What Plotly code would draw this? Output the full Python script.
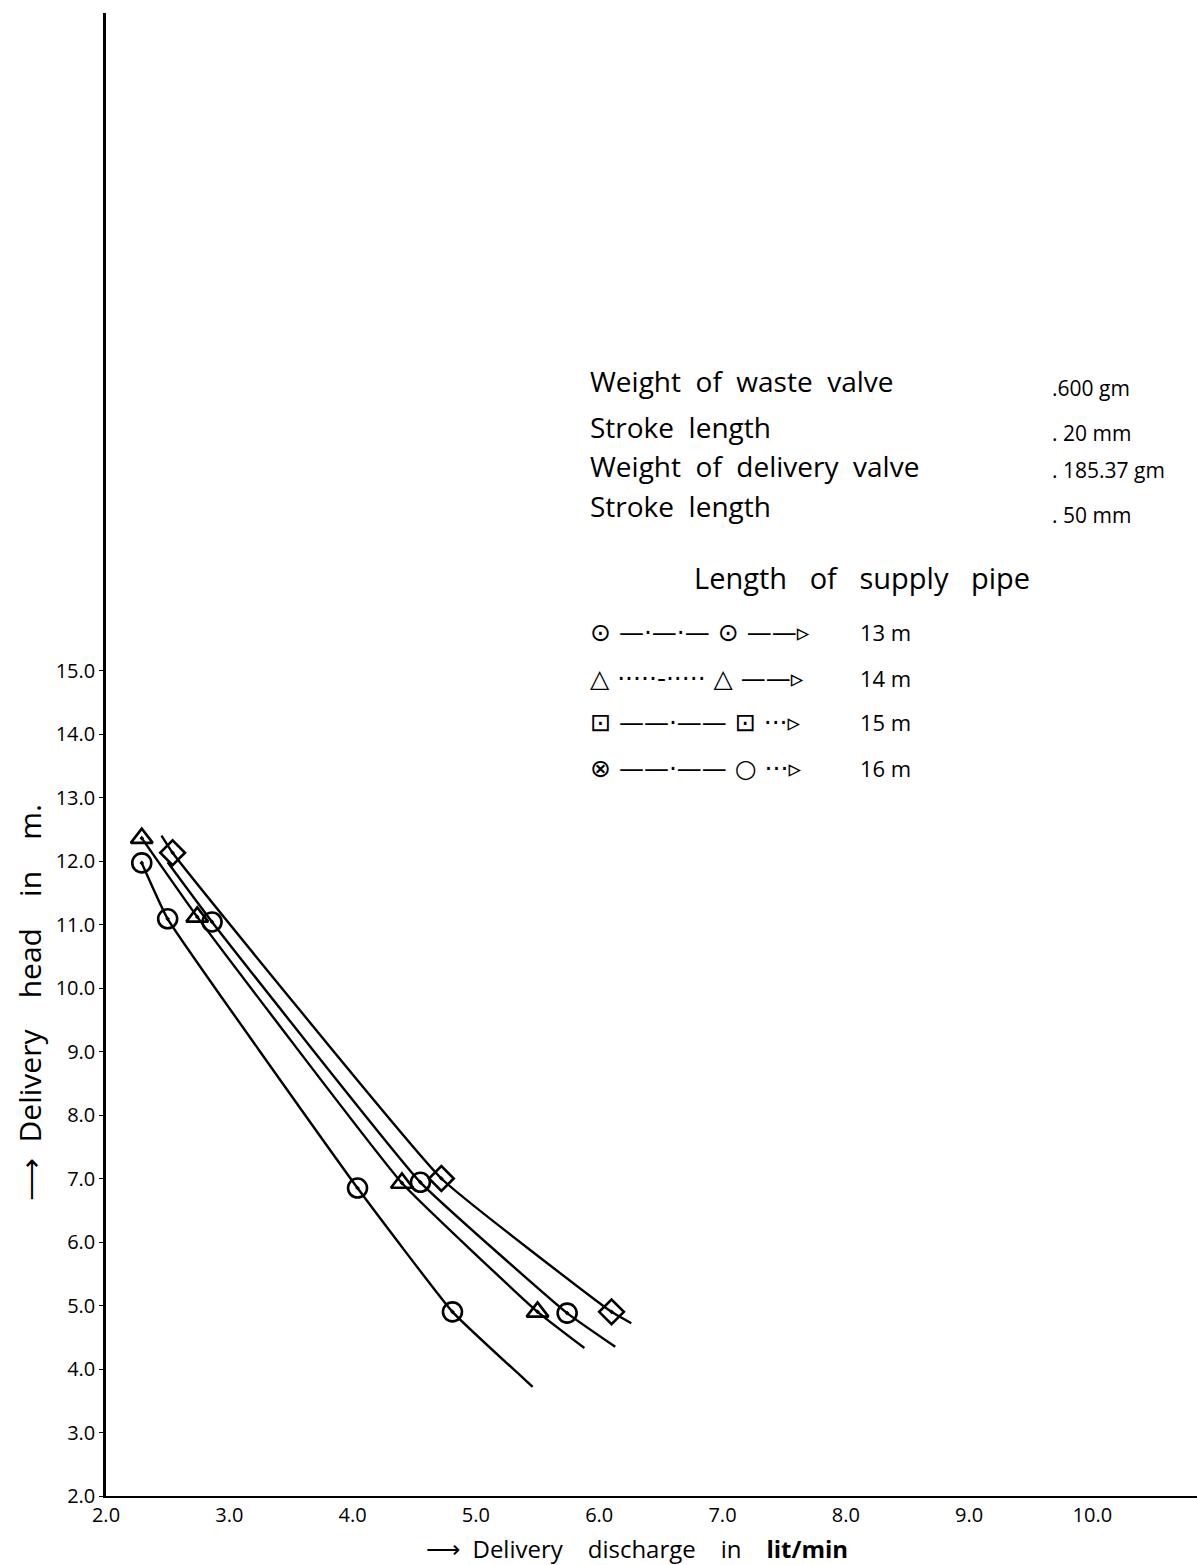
import plotly.graph_objects as go

# ---- data ----
# observed points (discharge lit/min, head m)
s1_q = [2.29, 2.50, 4.04, 4.81]
s1_h = [11.97, 11.09, 6.85, 4.90]
s1_end_q = [5.46]
s1_end_h = [3.72]

s2_q = [2.29, 2.74, 4.40, 5.50]
s2_h = [12.36, 11.12, 6.93, 4.90]
s2_end_q = [5.88]
s2_end_h = [4.33]

s3_start_q = [2.50]
s3_start_h = [11.98]
s3_q = [2.86, 4.55, 5.74]
s3_h = [11.04, 6.94, 4.88]
s3_end_q = [6.13]
s3_end_h = [4.35]

s4_start_q = [2.45]
s4_start_h = [12.40]
s4_q = [2.54, 4.72, 6.10]
s4_h = [12.13, 7.00, 4.90]
s4_end_q = [6.26]
s4_end_h = [4.72]

x_ticks = [2, 3, 4, 5, 6, 7, 8, 9, 10]
x_ticktext = ["2.0", "3.0", "4.0", "5.0", "6.0", "7.0", "8.0", "9.0", "10.0"]
y_ticks = [2, 3, 4, 5, 6, 7, 8, 9, 10, 11, 12, 13, 14, 15]
y_ticktext = ["2.0", "3.0", "4.0", "5.0", "6.0", "7.0", "8.0", "9.0", "10.0",
              "11.0", "12.0", "13.0", "14.0", "15.0"]

info_labels = ["Weight  of  waste  valve", "Stroke  length",
               "Weight  of  delivery  valve", "Stroke  length"]
info_values = [".600 gm", ". 20 mm", ". 185.37 gm", ". 50 mm"]
key_symbols = ["⊙ —·—·— ⊙ ——▹", "△ ·····-····· △ ——▹",
               "⊡ ——·—— ⊡ ···▹", "⊗ ——·—— ○ ···▹"]
key_lengths = ["13 m", "14 m", "15 m", "16 m"]

W, H = 1197, 1565
L, R, T, B = 106, 0, 13, 69
X0, XPPU = 2.0, 123.3
Y0, YPPU = 2.0, 63.5
xr = [X0, X0 + (W - L - R) / XPPU]
yr = [Y0, Y0 + (H - T - B) / YPPU]

def px(xp, yp):
    return (xp - L) / (W - L - R), (H - B - yp) / (H - T - B)

fig = go.Figure()
FONT = "Open Sans"
lw = 2.4

series = [
    ([], [], s1_q, s1_h, s1_end_q, s1_end_h, "circle-open-dot"),
    ([], [], s2_q, s2_h, s2_end_q, s2_end_h, "triangle-up-open-dot"),
    (s3_start_q, s3_start_h, s3_q, s3_h, s3_end_q, s3_end_h, "circle-open-dot"),
    (s4_start_q, s4_start_h, s4_q, s4_h, s4_end_q, s4_end_h, "diamond-open-dot"),
]
for sq, sh, q, h, eq, eh, sym in series:
    fig.add_trace(go.Scatter(x=sq + q + eq, y=sh + h + eh, mode="lines",
                             line=dict(color="black", width=lw, shape="spline", smoothing=0.35),
                             showlegend=False, hoverinfo="skip"))
    fig.add_trace(go.Scatter(x=q, y=h, mode="markers",
                             marker=dict(symbol=sym, size=19, color="black",
                                         line=dict(color="black", width=2.6)),
                             showlegend=False))

ann = []
rows_y = [381, 427, 466, 506]
vals_y = [388, 433, 470, 515]
for i in range(4):
    x, y = px(588, rows_y[i])
    ann.append(dict(x=x, y=y, text=info_labels[i], xanchor="left", yanchor="middle",
                    font=dict(size=28, family=FONT, color="black")))
    x, y = px(1050, vals_y[i])
    ann.append(dict(x=x, y=y, text=info_values[i], xanchor="left", yanchor="middle",
                    font=dict(size=21, family=FONT, color="black")))
x, y = px(862, 577)
ann.append(dict(x=x, y=y, text="Length   of   supply   pipe", xanchor="center", yanchor="middle",
                font=dict(size=29, family=FONT, color="black")))
key_y = [632, 678, 722, 768]
for i in range(4):
    x, y = px(588, key_y[i])
    ann.append(dict(x=x, y=y, text=key_symbols[i], xanchor="left", yanchor="middle",
                    font=dict(size=25, family="DejaVu Sans", color="black")))
    x, y = px(858, key_y[i])
    ann.append(dict(x=x, y=y, text=key_lengths[i], xanchor="left", yanchor="middle",
                    font=dict(size=22, family=FONT, color="black")))
# axis titles
x, y = px(30, 1003)
ann.append(dict(x=x, y=y, text="⟶  Delivery    head    in    m.", textangle=-90,
                xanchor="center", yanchor="middle",
                font=dict(size=30, family=FONT, color="black")))
x, y = px(637, 1548)
ann.append(dict(x=x, y=y, text="⟶  Delivery    discharge    in    <b>lit/min</b>",
                xanchor="center", yanchor="middle",
                font=dict(size=24, family=FONT, color="black")))
for a in ann:
    a.update(xref="paper", yref="paper", showarrow=False)

fig.update_layout(
    width=W, height=H, margin=dict(l=L, r=R, t=T, b=B),
    paper_bgcolor="white", plot_bgcolor="white",
    annotations=ann, showlegend=False,
    xaxis=dict(range=xr, tickvals=x_ticks, ticktext=x_ticktext, showgrid=False,
               zeroline=False, showline=True, linecolor="black", linewidth=2,
               ticks="", tickfont=dict(size=20, family=FONT, color="black")),
    yaxis=dict(range=yr, tickvals=y_ticks, ticktext=y_ticktext, showgrid=False,
               zeroline=False, showline=True, linecolor="black", linewidth=2.5,
               ticks="outside", ticklen=4, tickcolor="black",
               tickfont=dict(size=20, family=FONT, color="black")),
)
fig.write_html("out.html")
